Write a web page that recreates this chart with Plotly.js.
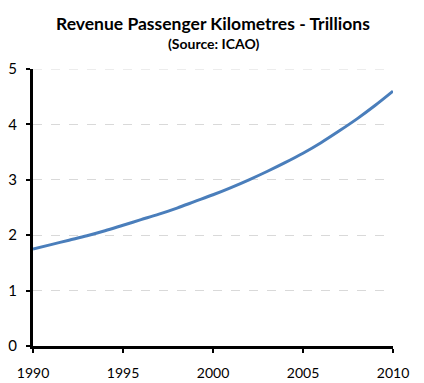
<!DOCTYPE html>
<html><head><meta charset="utf-8">
<script src="https://cdn.plot.ly/plotly-3.0.1.min.js"></script>
<style>html,body{margin:0;padding:0;background:#fff}#chart{width:424px;height:383px}</style>
</head><body><div id="chart"></div>
<script>
const years = [1990,1991,1992,1993,1994,1995,1996,1997,1998,1999,2000,2001,2002,2003,2004,2005,2006,2007,2008,2009,2010];
const rpk = [1.75,1.83,1.91,1.99,2.08,2.18,2.28,2.38,2.49,2.61,2.73,2.86,3.00,3.15,3.31,3.48,3.67,3.88,4.10,4.34,4.60];
const xTicks = [1990,1995,2000,2005,2010];
const yTicks = [0,1,2,3,4,5];
const titleText = "Revenue Passenger Kilometres - Trillions";
const subtitleText = "(Source: ICAO)";

const font = "Lato, sans-serif";
const yMax = yTicks[yTicks.length - 1];
Plotly.newPlot('chart', [{
  x: years, y: rpk, type: 'scatter', mode: 'lines',
  line: {color: '#4a7ebb', width: 3, shape: 'spline'}, hoverinfo: 'none'
}], {
  width: 424, height: 383,
  margin: {l: 33, r: 31, t: 69, b: 37},
  paper_bgcolor: '#fff', plot_bgcolor: '#fff',
  showlegend: false,
  font: {family: font, color: '#000', size: 12},
  xaxis: {range: [xTicks[0], xTicks[xTicks.length - 1]], tickvals: xTicks, ticktext: xTicks.map(String),
    showline: true, linecolor: '#000', linewidth: 3, showgrid: false, zeroline: false,
    ticks: 'outside', ticklen: 4, tickwidth: 2, tickcolor: '#000', ticklabelstandoff: 8,
    tickfont: {family: font, size: 14, color: '#000'}},
  yaxis: {range: [0, yMax], tickvals: yTicks,
    showline: true, linecolor: '#000', linewidth: 3, zeroline: false,
    showgrid: true, gridcolor: '#d9d9d9', griddash: 'dash', gridwidth: 1,
    ticks: 'outside', ticklen: 4, tickwidth: 2, tickcolor: '#000', ticklabelstandoff: 6,
    tickfont: {family: font, size: 15, color: '#000'}},
  shapes: [
    {type: 'line', xref: 'paper', yref: 'y', x0: 0, x1: 1, y0: yMax, y1: yMax, layer: 'below',
     line: {color: '#d9d9d9', width: 1, dash: 'dash'}}
  ],
  annotations: [
    {text: '<b>' + titleText + '</b>', xref: 'paper', yref: 'paper', x: 0.5, y: 1, yshift: 46,
     xanchor: 'center', yanchor: 'middle', showarrow: false, font: {family: font, size: 17.5, color: '#000'}},
    {text: '<b>' + subtitleText + '</b>', xref: 'paper', yref: 'paper', x: 0.5, y: 1, yshift: 26,
     xanchor: 'center', yanchor: 'middle', showarrow: false, font: {family: font, size: 14, color: '#000'}}
  ]
}, {staticPlot: true});
</script></body></html>
